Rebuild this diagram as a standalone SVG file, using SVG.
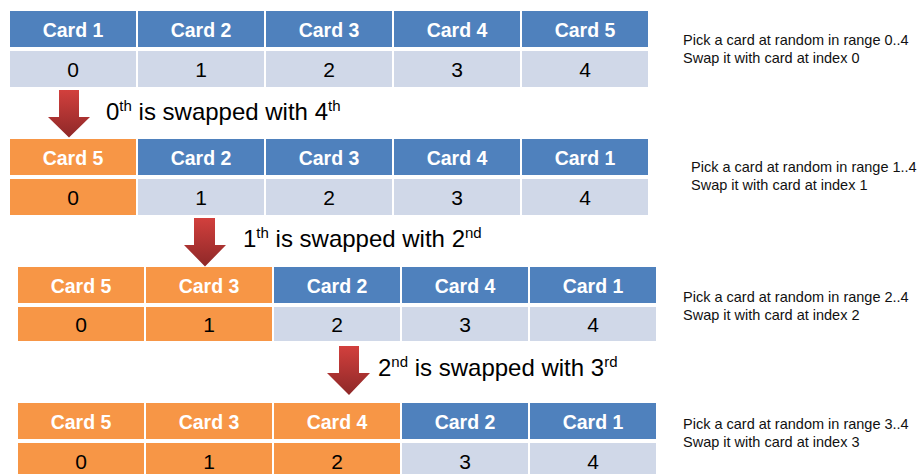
<svg xmlns="http://www.w3.org/2000/svg" width="921" height="474" viewBox="0 0 921 474">
  <style>
    .hd { fill: #4F81BD; }
    .bd { fill: #D0D8E8; }
    .on { fill: #F79646; }
    .ht { font-family: "Liberation Sans", Arial, sans-serif; font-weight: bold; font-size: 19.5px; fill: #FFFFFF; text-anchor: middle; }
    .vt { font-family: "Liberation Sans", Arial, sans-serif; font-size: 21px; fill: #000000; text-anchor: middle; }
    .lbl { font-family: "Liberation Sans", Arial, sans-serif; font-size: 24px; fill: #000000; }
    .sup { font-size: 15px; }
    .note { font-family: "Liberation Sans", Arial, sans-serif; font-size: 14.5px; fill: #111111; }
    .arrow { fill: url(#redGrad); }
  </style>
  <defs>
    <linearGradient id="redGrad" x1="0" y1="0" x2="0" y2="1">
      <stop offset="0" stop-color="#D2403D"/>
      <stop offset="1" stop-color="#8E2828"/>
    </linearGradient>
  </defs>

  <!-- Step 0: initial deck -->
  <g id="deck0">
    <rect class="hd" x="10" y="11" width="126" height="36"/>
    <rect class="hd" x="138" y="11" width="126" height="36"/>
    <rect class="hd" x="266" y="11" width="126" height="36"/>
    <rect class="hd" x="394" y="11" width="126" height="36"/>
    <rect class="hd" x="522" y="11" width="126" height="36"/>
    <rect class="bd" x="10" y="51" width="126" height="36"/>
    <rect class="bd" x="138" y="51" width="126" height="36"/>
    <rect class="bd" x="266" y="51" width="126" height="36"/>
    <rect class="bd" x="394" y="51" width="126" height="36"/>
    <rect class="bd" x="522" y="51" width="126" height="36"/>
    <text class="ht" x="73" y="37">Card 1</text>
    <text class="ht" x="201" y="37">Card 2</text>
    <text class="ht" x="329" y="37">Card 3</text>
    <text class="ht" x="457" y="37">Card 4</text>
    <text class="ht" x="585" y="37">Card 5</text>
    <text class="vt" x="73" y="76.5">0</text>
    <text class="vt" x="201" y="76.5">1</text>
    <text class="vt" x="329" y="76.5">2</text>
    <text class="vt" x="457" y="76.5">3</text>
    <text class="vt" x="585" y="76.5">4</text>
  </g>
  <g id="note0">
    <text class="note" x="683" y="45">Pick a card at random in range 0..4</text>
    <text class="note" x="683" y="63">Swap it with card at index 0</text>
  </g>

  <!-- Step 1 -->
  <g id="deck1">
    <rect class="on" x="10" y="139" width="126" height="36"/>
    <rect class="hd" x="138" y="139" width="126" height="36"/>
    <rect class="hd" x="266" y="139" width="126" height="36"/>
    <rect class="hd" x="394" y="139" width="126" height="36"/>
    <rect class="hd" x="522" y="139" width="126" height="36"/>
    <rect class="on" x="10" y="179" width="126" height="36"/>
    <rect class="bd" x="138" y="179" width="126" height="36"/>
    <rect class="bd" x="266" y="179" width="126" height="36"/>
    <rect class="bd" x="394" y="179" width="126" height="36"/>
    <rect class="bd" x="522" y="179" width="126" height="36"/>
    <text class="ht" x="73" y="165">Card 5</text>
    <text class="ht" x="201" y="165">Card 2</text>
    <text class="ht" x="329" y="165">Card 3</text>
    <text class="ht" x="457" y="165">Card 4</text>
    <text class="ht" x="585" y="165">Card 1</text>
    <text class="vt" x="73" y="204.5">0</text>
    <text class="vt" x="201" y="204.5">1</text>
    <text class="vt" x="329" y="204.5">2</text>
    <text class="vt" x="457" y="204.5">3</text>
    <text class="vt" x="585" y="204.5">4</text>
  </g>
  <g id="note1">
    <text class="note" x="691" y="172">Pick a card at random in range 1..4</text>
    <text class="note" x="691" y="190">Swap it with card at index 1</text>
  </g>

  <!-- Step 2 -->
  <g id="deck2">
    <rect class="on" x="18" y="267" width="126" height="36"/>
    <rect class="on" x="146" y="267" width="126" height="36"/>
    <rect class="hd" x="274" y="267" width="126" height="36"/>
    <rect class="hd" x="402" y="267" width="126" height="36"/>
    <rect class="hd" x="530" y="267" width="126" height="36"/>
    <rect class="on" x="18" y="307" width="126" height="34"/>
    <rect class="on" x="146" y="307" width="126" height="34"/>
    <rect class="bd" x="274" y="307" width="126" height="34"/>
    <rect class="bd" x="402" y="307" width="126" height="34"/>
    <rect class="bd" x="530" y="307" width="126" height="34"/>
    <text class="ht" x="81" y="293">Card 5</text>
    <text class="ht" x="209" y="293">Card 3</text>
    <text class="ht" x="337" y="293">Card 2</text>
    <text class="ht" x="465" y="293">Card 4</text>
    <text class="ht" x="593" y="293">Card 1</text>
    <text class="vt" x="81" y="331.5">0</text>
    <text class="vt" x="209" y="331.5">1</text>
    <text class="vt" x="337" y="331.5">2</text>
    <text class="vt" x="465" y="331.5">3</text>
    <text class="vt" x="593" y="331.5">4</text>
  </g>
  <g id="note2">
    <text class="note" x="683" y="302">Pick a card at random in range 2..4</text>
    <text class="note" x="683" y="320">Swap it with card at index 2</text>
  </g>

  <!-- Step 3 -->
  <g id="deck3">
    <rect class="on" x="18" y="403" width="126" height="36"/>
    <rect class="on" x="146" y="403" width="126" height="36"/>
    <rect class="on" x="274" y="403" width="126" height="36"/>
    <rect class="hd" x="402" y="403" width="126" height="36"/>
    <rect class="hd" x="530" y="403" width="126" height="36"/>
    <rect class="on" x="18" y="443" width="126" height="36"/>
    <rect class="on" x="146" y="443" width="126" height="36"/>
    <rect class="on" x="274" y="443" width="126" height="36"/>
    <rect class="bd" x="402" y="443" width="126" height="36"/>
    <rect class="bd" x="530" y="443" width="126" height="36"/>
    <text class="ht" x="81" y="429">Card 5</text>
    <text class="ht" x="209" y="429">Card 3</text>
    <text class="ht" x="337" y="429">Card 4</text>
    <text class="ht" x="465" y="429">Card 2</text>
    <text class="ht" x="593" y="429">Card 1</text>
    <text class="vt" x="81" y="468.5">0</text>
    <text class="vt" x="209" y="468.5">1</text>
    <text class="vt" x="337" y="468.5">2</text>
    <text class="vt" x="465" y="468.5">3</text>
    <text class="vt" x="593" y="468.5">4</text>
  </g>
  <g id="note3">
    <text class="note" x="683" y="429">Pick a card at random in range 3..4</text>
    <text class="note" x="683" y="447">Swap it with card at index 3</text>
  </g>

  <!-- Swap steps: arrows and captions -->
  <g id="connectors">
    <polygon class="arrow" points="59,90 79,90 79,117 90,117 69,137.5 48,117 59,117"/>
    <polygon class="arrow" points="194,218 215,218 215,245 226,245 205,266.5 184,245 194,245"/>
    <polygon class="arrow" points="339,346 359,346 359,373 370,373 349,395 327,373 339,373"/>
    <text class="lbl" x="106" y="120">0<tspan class="sup" dy="-9">th</tspan><tspan dy="9"> is swapped with 4</tspan><tspan class="sup" dy="-9">th</tspan></text>
    <text class="lbl" x="243" y="247">1<tspan class="sup" dy="-9">th</tspan><tspan dy="9"> is swapped with 2</tspan><tspan class="sup" dy="-9">nd</tspan></text>
    <text class="lbl" x="378" y="376">2<tspan class="sup" dy="-9">nd</tspan><tspan dy="9"> is swapped with 3</tspan><tspan class="sup" dy="-9">rd</tspan></text>
  </g>
</svg>
